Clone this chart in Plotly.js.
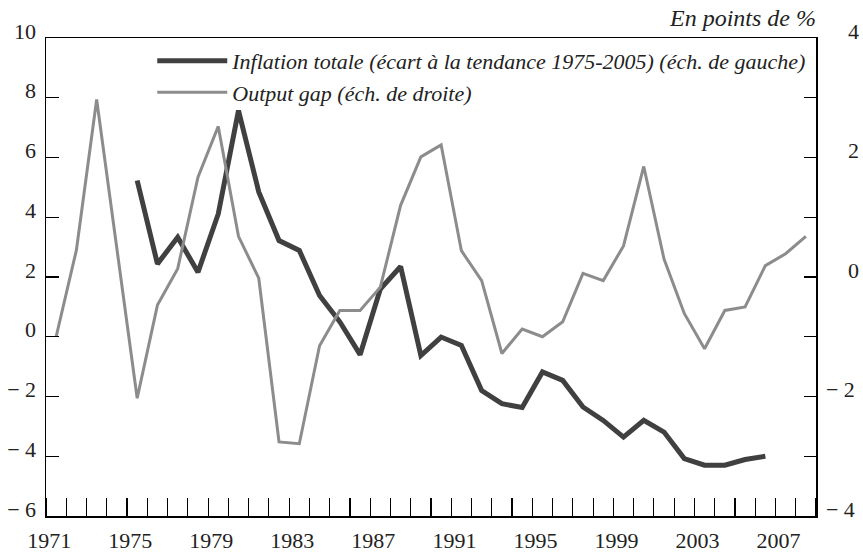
<!DOCTYPE html>
<html>
<head>
<meta charset="utf-8">
<script src="https://cdn.plot.ly/plotly-3.0.1.min.js"></script>
<style>html,body{margin:0;padding:0;background:#fff;}#chart{width:863px;height:554px;}</style>
</head>
<body>
<div id="chart"></div>
<script>
// Years
const yearsGap = [1971,1972,1973,1974,1975,1976,1977,1978,1979,1980,1981,1982,1983,1984,1985,1986,1987,1988,1989,1990,1991,1992,1993,1994,1995,1996,1997,1998,1999,2000,2001,2002,2003,2004,2005,2006,2007,2008];
const yearsInfl = [1975,1976,1977,1978,1979,1980,1981,1982,1983,1984,1985,1986,1987,1988,1989,1990,1991,1992,1993,1994,1995,1996,1997,1998,1999,2000,2001,2002,2003,2004,2005,2006];
// Inflation totale (écart à la tendance 1975-2005), left scale
const inflation = [5.23,2.44,3.33,2.16,4.11,7.57,4.85,3.22,2.89,1.38,0.5,-0.6,1.6,2.35,-0.63,-0.01,-0.29,-1.8,-2.24,-2.37,-1.18,-1.46,-2.35,-2.8,-3.36,-2.8,-3.19,-4.08,-4.3,-4.3,-4.11,-4.0];
// Output gap, right scale
const outputGap = [-1.0,0.45,2.97,0.47,-2.03,-0.47,0.14,1.67,2.52,0.68,-0.02,-2.76,-2.79,-1.15,-0.56,-0.56,-0.17,1.2,2.01,2.21,0.44,-0.06,-1.28,-0.87,-1.0,-0.75,0.06,-0.06,0.52,1.85,0.3,-0.61,-1.2,-0.56,-0.5,0.19,0.39,0.68];
// Tick labels
const xTickVals = [1971,1975,1979,1983,1987,1991,1995,1999,2003,2007];
const xTickText = ['1971','1975','1979','1983','1987','1991','1995','1999','2003','2007'];
const yLeftVals = [-6,-4,-2,0,2,4,6,8,10];
const yLeftText = ['\u2212 6','\u2212 4','\u2212 2','0','2','4','6','8','10'];
const yRightVals = [-4,-3,-2,-1,0,1,2,3,4];
const yRightText = ['\u2212 4','','\u2212 2','','\u00a0\u00a0\u00a0\u00a00','','\u00a0\u00a0\u00a0\u00a02','','\u00a0\u00a0\u00a0\u00a04'];
const names = ['Inflation totale (écart à la tendance 1975-2005) (éch. de gauche)','Output gap (éch. de droite)'];

const FONT = '"Liberation Serif"';

const traces = [
  {x: yearsInfl, y: inflation, name: names[0], type: 'scatter', mode: 'lines', yaxis: 'y',
   line: {color: '#404040', width: 5}},
  {x: yearsGap, y: outputGap, name: names[1], type: 'scatter', mode: 'lines', yaxis: 'y2',
   line: {color: '#8c8c8c', width: 3}}
];

const layout = {
  width: 863, height: 554,
  margin: {l: 45.7, r: 47.3, t: 37.5, b: 38.3},
  paper_bgcolor: '#fff', plot_bgcolor: '#fff',
  font: {family: FONT, size: 22, color: '#222'},
  showlegend: true,
  legend: {x: 0.138, y: 0.996, xanchor: 'left', yanchor: 'top', bgcolor: 'rgba(0,0,0,0)',
    font: {family: FONT, size: 22, color: '#222', style: 'italic'}, itemwidth: 70, tracegroupgap: 0},
  xaxis: {range: [1970.5, 2008.5], tickmode: 'array', tickvals: xTickVals, ticktext: xTickText,
    ticks: '', showgrid: false, zeroline: false, showline: true, linecolor: '#000', linewidth: 1.5,
    mirror: true, ticklabelshift: -7, ticklabelstandoff: 4,
    minor: {tick0: 1970.5, dtick: 1, ticks: 'inside', ticklen: 18, tickcolor: '#000', tickwidth: 1.2, showgrid: false}},
  yaxis: {range: [-6, 10], tickmode: 'array', tickvals: yLeftVals, ticktext: yLeftText,
    ticks: 'inside', ticklen: 13, tickcolor: '#000', tickwidth: 1.2,
    showgrid: false, zeroline: false, showline: true, linecolor: '#000', linewidth: 1.5,
    ticklabelshift: -7, ticklabelstandoff: 4},
  yaxis2: {range: [-4, 4], overlaying: 'y', side: 'right', tickmode: 'array', tickvals: yRightVals, ticktext: yRightText,
    ticks: 'inside', ticklen: 12, tickcolor: '#000', tickwidth: 1.2,
    showgrid: false, zeroline: false, showline: true, linecolor: '#000', linewidth: 1.5,
    ticklabelshift: -7, ticklabelstandoff: 4},
  annotations: [{xref: 'paper', yref: 'paper', x: 1, y: 1, xanchor: 'right', yanchor: 'bottom', yshift: 5, xshift: 2,
    text: 'En points de %', showarrow: false, font: {family: FONT, size: 24, color: '#222', style: 'italic'}}]
};

Plotly.newPlot('chart', traces, layout, {displayModeBar: false, staticPlot: true});
</script>
</body>
</html>
